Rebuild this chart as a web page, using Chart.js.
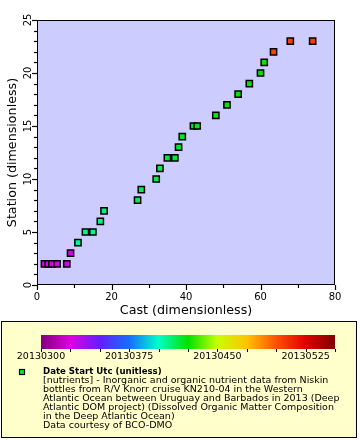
<!DOCTYPE html>
<html><head><meta charset="utf-8">
<script src="https://cdn.jsdelivr.net/npm/chart.js@4"></script>
<style>
html,body{margin:0;padding:0;background:#fff;width:360px;height:440px;overflow:hidden;}
#wrap{position:absolute;left:0;top:0;width:360px;height:440px;}
</style></head><body>
<div id="wrap"><canvas id="c" width="360" height="440"></canvas></div>
<script>
// ---- data ----
const cast    = [2, 3, 4, 5.4, 8, 9, 11, 13, 15, 17, 18, 27, 28, 32, 33, 35, 37, 38, 39, 42, 43, 48, 51, 54, 57, 60, 61, 63.5, 68, 74];
const station = [2, 2, 2, 2,   2, 3, 4,  5,  5,  6,  7,  8,  9,  10, 11, 12, 12, 13, 14, 15, 15, 16, 17, 18, 19, 20, 21, 22,   23, 23];
const dateStart = [20130326, 20130326, 20130326, 20130326, 20130327, 20130328, 20130406, 20130407, 20130407, 20130408, 20130408,
                   20130414, 20130414, 20130415, 20130416, 20130417, 20130418, 20130419, 20130420, 20130421, 20130421, 20130422,
                   20130423, 20130424, 20130425, 20130426, 20130427, 20130503, 20130505, 20130506];
const xTicks = [0, 20, 40, 60, 80];
const yTicks = [0, 5, 10, 15, 20, 25];
const colorbarTicks = [20130300, 20130375, 20130450, 20130525];
const colorbarRange = [20130300, 20130550];
const xTitle = "Cast (dimensionless)";
const yTitle = "Station (dimensionless)";
const legendTitle = "Date Start Utc (unitless)";
const legendLines = [
  "[nutrients] - Inorganic and organic nutrient data from Niskin",
  "bottles from R/V Knorr cruise KN210-04 in the Western",
  "Atlantic Ocean between Uruguay and Barbados in 2013 (Deep",
  "Atlantic DOM project) (Dissolved Organic Matter Composition",
  "in the Deep Atlantic Ocean)",
  "Data courtesy of BCO-DMO"
];

// ---- colormap ----
const cmapStops = [
  [0.0, [128, 0, 128]], [0.1, [224, 0, 224]], [0.2, [100, 30, 255]], [0.3, [20, 110, 255]],
  [0.4, [0, 255, 200]], [0.5, [0, 225, 0]], [0.6, [200, 255, 0]], [0.7, [255, 195, 0]],
  [0.8, [255, 80, 0]], [0.9, [224, 0, 0]], [1.0, [128, 0, 0]]
];
function cmap(t) {
  t = Math.max(0, Math.min(1, t));
  for (let i = 1; i < cmapStops.length; i++) {
    const [t1, c1] = cmapStops[i], [t0, c0] = cmapStops[i - 1];
    if (t <= t1) {
      const f = (t - t0) / (t1 - t0);
      const c = c0.map((v, k) => Math.round(v + (c1[k] - v) * f));
      return `rgb(${c[0]},${c[1]},${c[2]})`;
    }
  }
  return 'rgb(128,0,0)';
}
const pointColors = dateStart.map(d => cmap((d - colorbarRange[0]) / (colorbarRange[1] - colorbarRange[0])));

const FONT = '"DejaVu Sans", Verdana, sans-serif';

const decor = {
  id: 'decor',
  beforeDatasetsDraw(chart) {
    const {ctx, chartArea: a} = chart;
    ctx.save();
    ctx.fillStyle = '#ccccff';
    ctx.fillRect(a.left, a.top, a.right - a.left, a.bottom - a.top);
    ctx.restore();
  },
  afterDraw(chart) {
    const {ctx, chartArea: a} = chart;
    const xs = chart.scales.x, ys = chart.scales.y;
    ctx.save();
    ctx.strokeStyle = '#000';
    ctx.lineWidth = 1;
    ctx.strokeRect(a.left + 0.5, a.top + 0.5, a.right - a.left - 1, a.bottom - a.top - 1);
    ctx.lineWidth = 1.2;
    // x ticks
    for (let v = xs.min; v <= xs.max; v += 10) {
      const px = Math.round(xs.getPixelForValue(v)) + 0.5;
      const len = (v % 20 === 0) ? 5 : 3;
      ctx.beginPath(); ctx.moveTo(px, a.bottom); ctx.lineTo(px, a.bottom + len); ctx.stroke();
    }
    // y ticks
    for (let v = ys.min; v <= ys.max; v += 1) {
      const py = Math.round(ys.getPixelForValue(v)) + 0.5;
      const len = (v % 5 === 0) ? 5 : 3;
      ctx.beginPath(); ctx.moveTo(a.left, py); ctx.lineTo(a.left - len, py); ctx.stroke();
    }
    ctx.fillStyle = '#000';
    ctx.font = '10px ' + FONT;
    ctx.textAlign = 'center'; ctx.textBaseline = 'middle';
    xTicks.forEach(v => ctx.fillText(String(v), xs.getPixelForValue(v), a.bottom + 12));
    yTicks.forEach(v => {
      ctx.save();
      ctx.translate(a.left - 9, ys.getPixelForValue(v));
      ctx.rotate(-Math.PI / 2);
      ctx.fillText(String(v), 0, 0);
      ctx.restore();
    });
    // titles
    ctx.font = '12.7px ' + FONT;
    ctx.fillText(xTitle, (a.left + a.right) / 2, a.bottom + 26);
    ctx.save();
    ctx.translate(13, (a.top + a.bottom) / 2);
    ctx.rotate(-Math.PI / 2);
    ctx.fillText(yTitle, 0, 0);
    ctx.restore();

    // legend box
    ctx.fillStyle = '#ffffcc';
    ctx.fillRect(1, 321, 356, 117);
    ctx.lineWidth = 1;
    ctx.strokeStyle = '#000';
    ctx.strokeRect(1.5, 321.5, 355, 116);
    // colorbar
    const cbL = 41, cbR = 335, cbT = 335, cbB = 349;
    const g = ctx.createLinearGradient(cbL, 0, cbR, 0);
    cmapStops.forEach(([t]) => g.addColorStop(t, cmap(t)));
    ctx.fillStyle = g;
    ctx.fillRect(cbL, cbT, cbR - cbL, cbB - cbT);
    const cbPx = v => cbL + (v - colorbarRange[0]) / (colorbarRange[1] - colorbarRange[0]) * (cbR - cbL);
    ctx.strokeStyle = '#000';
    for (let v = colorbarRange[0]; v <= colorbarRange[1]; v += 25) {
      const px = Math.round(cbPx(v)) + 0.5;
      ctx.beginPath(); ctx.moveTo(px, cbB); ctx.lineTo(px, cbB + 3); ctx.stroke();
    }
    ctx.fillStyle = '#000';
    ctx.font = '9.5px ' + FONT;
    ctx.textAlign = 'center';
    colorbarTicks.forEach(v => ctx.fillText(String(v), cbPx(v), 357));
    // legend marker
    ctx.fillStyle = '#00ee33';
    ctx.fillRect(19.5, 369.5, 5, 5);
    ctx.lineWidth = 1.2;
    ctx.strokeRect(19.5, 369.5, 5, 5);
    // legend text
    ctx.fillStyle = '#000';
    ctx.textAlign = 'left';
    ctx.font = 'bold 8.6px ' + FONT;
    ctx.fillText(legendTitle, 43, 372);
    ctx.font = '9.5px ' + FONT;
    legendLines.forEach((s, i) => ctx.fillText(s, 43, 381 + i * 9));
    ctx.restore();
  }
};

new Chart(document.getElementById('c'), {
  type: 'scatter',
  data: {
    datasets: [{
      data: cast.map((x, i) => ({x, y: station[i]})),
      pointStyle: 'rect',
      pointRadius: 4.4,
      pointHoverRadius: 4.4,
      backgroundColor: pointColors,
      borderColor: '#000',
      borderWidth: 1.5
    }]
  },
  options: {
    responsive: false,
    animation: false,
    events: [],
    layout: {padding: {left: 37, top: 20, right: 25, bottom: 155}},
    plugins: {legend: {display: false}, tooltip: {enabled: false}},
    scales: {
      x: {type: 'linear', min: 0, max: 80, display: false},
      y: {type: 'linear', min: 0, max: 25, display: false}
    }
  },
  plugins: [decor]
});
</script>
</body></html>
